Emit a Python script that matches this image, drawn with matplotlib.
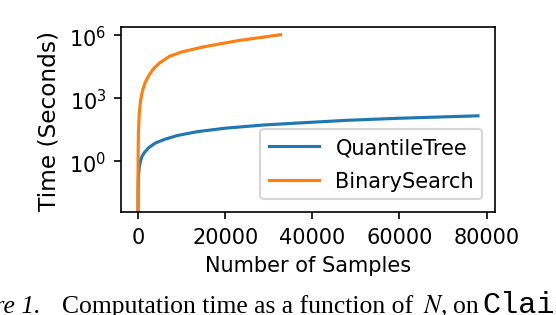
import matplotlib
matplotlib.use('Agg')
from matplotlib import pyplot as plt
from matplotlib import ticker

# QuantileTree timings (samples, seconds)
qt_samples = [0, 20, 100, 300, 600, 900, 1500, 2500, 4000, 6000, 9000, 13600,
              20000, 28900, 37300, 48000, 60100, 78000]
qt_time = [1e-4, 0.04, 0.19, 0.56, 1.1, 1.7, 2.7, 4.6, 7.5, 11.0, 17.0, 26.0,
           38.0, 54.0, 68.0, 90.0, 113.0, 147.0]

# BinarySearch timings (samples, seconds)
bs_samples = [0, 10, 30, 100, 300, 600, 1070, 1700, 2580, 3600, 4870, 7150,
              10200, 15150, 22800, 32700]
bs_time = [1e-4, 0.2, 2.0, 22.0, 200.0, 800.0, 2500.0, 6000.0, 1.3e4, 2.6e4,
           4.6e4, 9.7e4, 1.63e5, 2.8e5, 5.4e5, 1.05e6]

labels = ['QuantileTree', 'BinarySearch']

# the source was a default-style figure rendered at 150 dpi
DPI = 150
fig = plt.figure(figsize=(556 / DPI, 316 / DPI), dpi=DPI)
ax = fig.add_axes([0.2176, 0.326, 0.6726, 0.585])

ax.plot(qt_samples, qt_time, color='#1f77b4', label=labels[0])
ax.plot(bs_samples, bs_time, color='#ff7f0e', label=labels[1])

ax.set_yscale('log')
ax.set_ylim(10 ** -2.4, 10 ** 6.38)
ax.yaxis.set_major_locator(ticker.FixedLocator([1, 1e3, 1e6]))
ax.yaxis.set_minor_locator(ticker.NullLocator())
ax.set_xticks([0, 20000, 40000, 60000, 80000])

ax.set_xlabel('Number of Samples')
ax.set_ylabel('Time (Seconds)', fontsize=11.2)
ax.legend(loc='lower right', handlelength=2.4, labelspacing=0.65,
          borderaxespad=0.6)

# caption below the chart, cut off at both image edges like the source crop
W = 556
serif = 'Liberation Serif'
cap_size = 12.3
base_y = 3 / 316
fig.text(41 / W, base_y, 'Figure 1.', fontsize=cap_size, family=serif,
         style='italic', va='baseline', ha='right')
fig.text(62 / W, base_y, 'Computation time as a function of', fontsize=cap_size,
         family=serif, va='baseline')
fig.text(423 / W, base_y, '$N$,', fontsize=cap_size, family=serif,
         math_fontfamily='stix', va='baseline')
fig.text(453 / W, base_y, 'on', fontsize=cap_size, family=serif,
         va='baseline')
fig.text(482 / W, base_y, 'Claims', fontsize=14.5,
         family='Liberation Mono', va='baseline')

fig.savefig('out.png', dpi=DPI)
